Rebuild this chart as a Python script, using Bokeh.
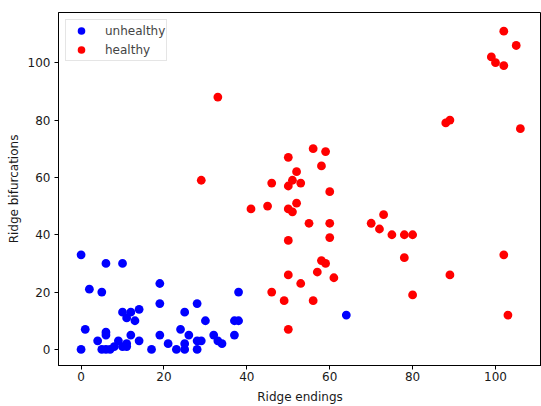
from bokeh.plotting import figure
from bokeh.models import Range1d, FixedTicker, Legend, LegendItem
from bokeh.embed import file_html
from bokeh.resources import INLINE

# unhealthy (blue)
unhealthy_x = [0, 6, 10, 2, 5, 19, 19, 28, 10, 12, 14, 11, 13, 25, 30, 37, 38, 38, 64,
               1, 6, 6, 4, 12, 9, 14, 11, 10, 0, 5, 6, 7, 8, 11, 17, 21, 23, 25, 25, 28,
               24, 19, 26, 28, 29, 32, 33, 34, 37]
unhealthy_y = [33, 30, 30, 21, 20, 23, 16, 16, 13, 13, 14, 11, 10, 13, 10, 10, 10, 20, 12,
               7, 6, 5, 3, 5, 3, 3, 2, 1, 0, 0, 0, 0, 1, 1, 0, 2, 0, 2, 0, 0,
               7, 5, 5, 3, 3, 5, 3, 2, 5]

# healthy (red)
healthy_x = [33, 29, 102, 105, 99, 100, 102, 88, 89, 106, 102, 89, 103, 73, 70, 72, 75, 78, 80, 78, 80,
             56, 59, 50, 58, 52, 51, 46, 53, 50, 60, 52, 41, 45, 50, 51, 55, 60, 60, 50,
             58, 59, 57, 50, 61, 53, 46, 49, 56, 50]
healthy_y = [88, 59, 111, 106, 102, 100, 99, 79, 80, 77, 33, 26, 12, 47, 44, 42, 40, 40, 40, 32, 19,
             70, 69, 67, 64, 62, 59, 58, 58, 57, 55, 51, 49, 50, 49, 48, 44, 44, 39, 38,
             31, 30, 27, 26, 25, 23, 20, 17, 17, 7]

x_ticks = [0, 20, 40, 60, 80, 100]
y_ticks = [0, 20, 40, 60, 80, 100]

FONT = "DejaVu Sans"

p = figure(width=541, height=406, output_backend="svg", toolbar_location=None,
           x_range=Range1d(-5.45, 111.1), y_range=Range1d(-5.6, 117.5),
           min_border_left=58, min_border_top=12, min_border_right=0, min_border_bottom=37)

r1 = p.scatter(unhealthy_x, unhealthy_y, size=8.8, color="#0000ff", line_color=None)
r2 = p.scatter(healthy_x, healthy_y, size=8.8, color="#ff0000", line_color=None)

p.xgrid.visible = False
p.ygrid.visible = False
p.outline_line_color = "black"
p.outline_line_width = 1

for ax, ticks in ((p.xaxis[0], x_ticks), (p.yaxis[0], y_ticks)):
    ax.ticker = FixedTicker(ticks=ticks)
    ax.minor_tick_line_color = None
    ax.major_tick_in = 0
    ax.major_tick_out = 4
    ax.axis_line_color = "black"
    ax.major_tick_line_color = "black"
    ax.major_label_text_font = FONT
    ax.major_label_text_font_size = "12px"
    ax.major_label_text_color = "#1a1a1a"
    ax.axis_label_text_font = FONT
    ax.axis_label_text_font_size = "12px"
    ax.axis_label_text_font_style = "normal"
    ax.axis_label_text_color = "#1a1a1a"

p.xaxis.axis_label = "Ridge endings"
p.yaxis.axis_label = "Ridge bifurcations"
p.xaxis.major_label_standoff = 2
p.xaxis.axis_label_standoff = 6
p.yaxis.major_label_standoff = 4
p.yaxis.axis_label_standoff = 4

legend = Legend(items=[LegendItem(label="unhealthy", renderers=[r1]),
                       LegendItem(label="healthy", renderers=[r2])],
                location="top_left", margin=7, padding=1, spacing=0,
                label_height=19, glyph_height=19, glyph_width=28, label_standoff=10,
                label_text_font=FONT, label_text_font_size="12px",
                border_line_color="#cccccc", background_fill_alpha=0.8)
p.add_layout(legend)

open("out.html", "w").write(file_html(p, INLINE))
